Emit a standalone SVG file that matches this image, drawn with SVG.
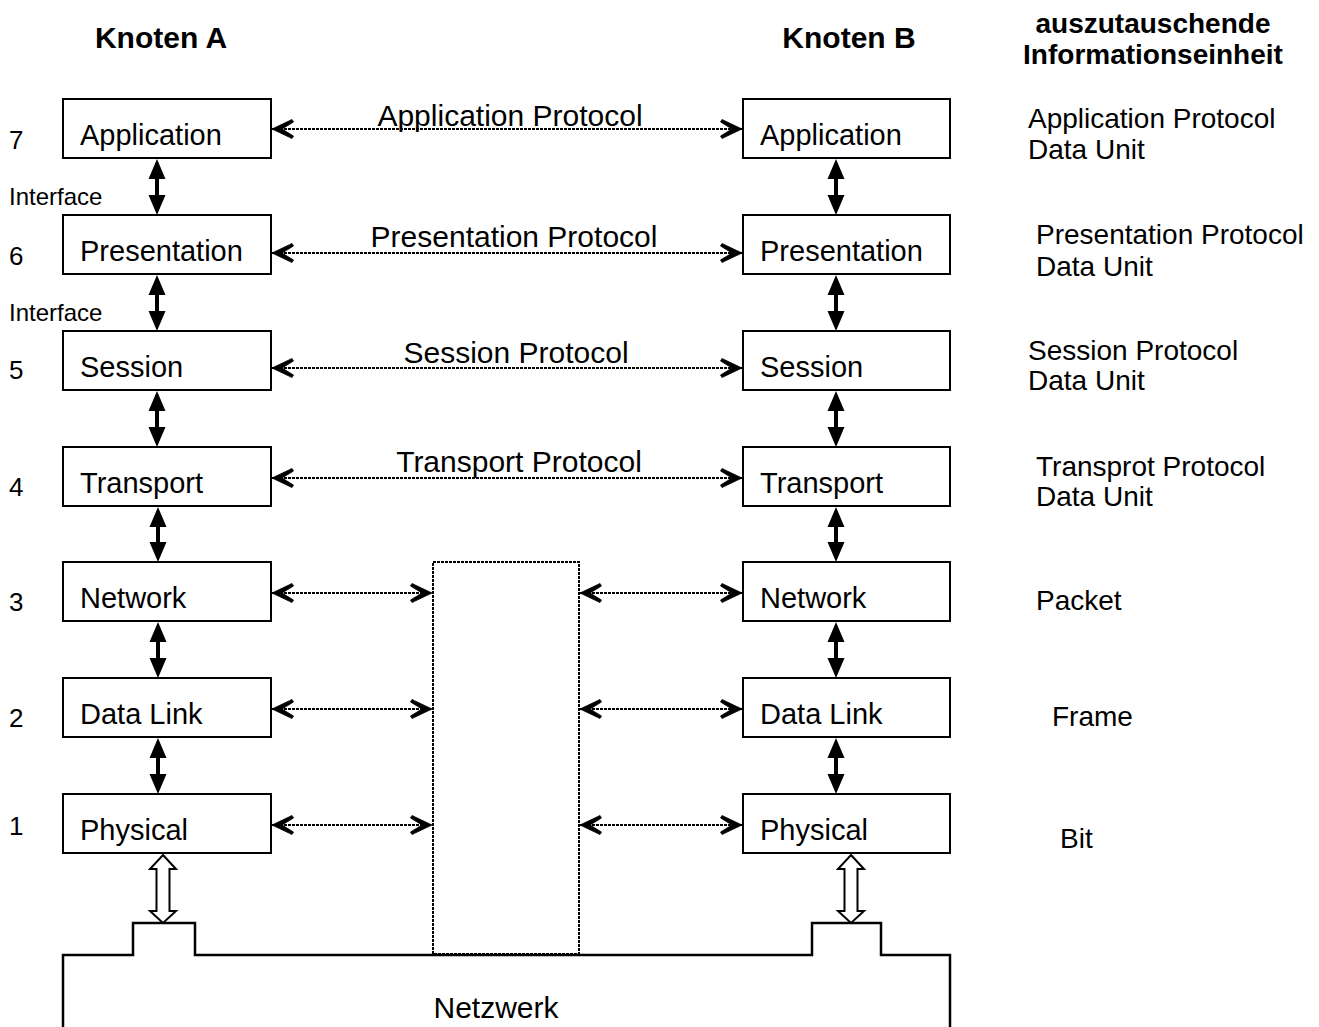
<svg xmlns="http://www.w3.org/2000/svg" width="1319" height="1027" viewBox="0 0 1319 1027">
  <style>
    text { font-family: "Liberation Sans", Arial, sans-serif; fill: #000; }
    .head { font-size: 30px; font-weight: bold; }
    .head2 { font-size: 28px; font-weight: bold; }
    .lbl { font-size: 29px; }
    .proto { font-size: 30px; }
    .num { font-size: 26px; }
    .ifc { font-size: 24px; }
    .unit { font-size: 28px; }
    .box { fill: #fff; stroke: #000; stroke-width: 2; }
    .dot { fill: none; stroke: #000; stroke-width: 2; stroke-dasharray: 3 1; }
    .solid { fill: #000; stroke: none; }
    .hollow { fill: #fff; stroke: #000; stroke-width: 2; stroke-linejoin: miter; }
    .net { fill: none; stroke: #000; stroke-width: 2.5; }
  </style>
  <defs>
    <!-- notched barbed head, tip at the line end -->
    <marker id="chev" viewBox="-23 -11 24 22" refX="0" refY="0" markerWidth="24" markerHeight="22" markerUnits="userSpaceOnUse" orient="auto-start-reverse">
      <path d="M0,0 L-20,-9.5 L-21.5,-7 L-10,0 L-21.5,7 L-20,9.5 Z" fill="#000" stroke="#000" stroke-width="0.8" stroke-dasharray="none"/>
    </marker>
  </defs>

  <rect width="1319" height="1027" fill="#fff"/>

  <!-- headings -->
  <text class="head" x="161" y="48" text-anchor="middle">Knoten A</text>
  <text class="head" x="849" y="48" text-anchor="middle">Knoten B</text>
  <text class="head2" x="1153" y="33" text-anchor="middle">auszutauschende</text>
  <text class="head2" x="1153" y="64" text-anchor="middle">Informationseinheit</text>

  <!-- layer numbers -->
  <g id="layer-numbers">
    <text class="num" x="9" y="149">7</text>
    <text class="num" x="9" y="265">6</text>
    <text class="num" x="9" y="379">5</text>
    <text class="num" x="9" y="496">4</text>
    <text class="num" x="9" y="611">3</text>
    <text class="num" x="9" y="727">2</text>
    <text class="num" x="9" y="835">1</text>
  </g>
  <text class="ifc" x="9" y="205">Interface</text>
  <text class="ifc" x="9" y="321">Interface</text>

  <!-- node A stack -->
  <g id="a-application"><rect class="box" x="63" y="99" width="208" height="59"/><text class="lbl" x="80" y="145">Application</text></g>
  <g id="a-presentation"><rect class="box" x="63" y="215" width="208" height="59"/><text class="lbl" x="80" y="261">Presentation</text></g>
  <g id="a-session"><rect class="box" x="63" y="331" width="208" height="59"/><text class="lbl" x="80" y="377">Session</text></g>
  <g id="a-transport"><rect class="box" x="63" y="447" width="208" height="59"/><text class="lbl" x="80" y="493">Transport</text></g>
  <g id="a-network"><rect class="box" x="63" y="562" width="208" height="59"/><text class="lbl" x="80" y="608">Network</text></g>
  <g id="a-datalink"><rect class="box" x="63" y="678" width="208" height="59"/><text class="lbl" x="80" y="724">Data Link</text></g>
  <g id="a-physical"><rect class="box" x="63" y="794" width="208" height="59"/><text class="lbl" x="80" y="840">Physical</text></g>

  <!-- node B stack -->
  <g id="b-application"><rect class="box" x="743" y="99" width="207" height="59"/><text class="lbl" x="760" y="145">Application</text></g>
  <g id="b-presentation"><rect class="box" x="743" y="215" width="207" height="59"/><text class="lbl" x="760" y="261">Presentation</text></g>
  <g id="b-session"><rect class="box" x="743" y="331" width="207" height="59"/><text class="lbl" x="760" y="377">Session</text></g>
  <g id="b-transport"><rect class="box" x="743" y="447" width="207" height="59"/><text class="lbl" x="760" y="493">Transport</text></g>
  <g id="b-network"><rect class="box" x="743" y="562" width="207" height="59"/><text class="lbl" x="760" y="608">Network</text></g>
  <g id="b-datalink"><rect class="box" x="743" y="678" width="207" height="59"/><text class="lbl" x="760" y="724">Data Link</text></g>
  <g id="b-physical"><rect class="box" x="743" y="794" width="207" height="59"/><text class="lbl" x="760" y="840">Physical</text></g>

  <!-- relay (intermediate system) -->
  <g id="relay"><rect class="dot" x="433" y="562" width="146" height="392"/></g>

  <!-- network -->
  <g id="netzwerk">
    <path class="net" d="M63,1027 V955 H133 V923 H195 V955 H812 V923 H881 V955 H950 V1027"/>
    <text class="proto" x="496" y="1018" text-anchor="middle">Netzwerk</text>
  </g>

  <!-- connectors -->
  <g id="connectors">
    <!-- peer protocols -->
    <line class="dot" x1="272" y1="129" x2="742" y2="129" marker-start="url(#chev)" marker-end="url(#chev)"/>
    <line class="dot" x1="272" y1="253" x2="742" y2="253" marker-start="url(#chev)" marker-end="url(#chev)"/>
    <line class="dot" x1="272" y1="368" x2="742" y2="368" marker-start="url(#chev)" marker-end="url(#chev)"/>
    <line class="dot" x1="272" y1="478" x2="742" y2="478" marker-start="url(#chev)" marker-end="url(#chev)"/>
    <line class="dot" x1="272" y1="593" x2="432" y2="593" marker-start="url(#chev)" marker-end="url(#chev)"/>
    <line class="dot" x1="580" y1="593" x2="742" y2="593" marker-start="url(#chev)" marker-end="url(#chev)"/>
    <line class="dot" x1="272" y1="709" x2="432" y2="709" marker-start="url(#chev)" marker-end="url(#chev)"/>
    <line class="dot" x1="580" y1="709" x2="742" y2="709" marker-start="url(#chev)" marker-end="url(#chev)"/>
    <line class="dot" x1="272" y1="825" x2="432" y2="825" marker-start="url(#chev)" marker-end="url(#chev)"/>
    <line class="dot" x1="580" y1="825" x2="742" y2="825" marker-start="url(#chev)" marker-end="url(#chev)"/>

    <!-- interfaces, node A -->
    <polygon class="solid" points="157,159 165.5,179 159,179 159,195 165.5,195 157,215 148.5,195 155,195 155,179 148.5,179"/>
    <polygon class="solid" points="157,275 165.5,295 159,295 159,311 165.5,311 157,331 148.5,311 155,311 155,295 148.5,295"/>
    <polygon class="solid" points="157,391 165.5,411 159,411 159,427 165.5,427 157,447 148.5,427 155,427 155,411 148.5,411"/>
    <polygon class="solid" points="158,507 166.5,527 160,527 160,542 166.5,542 158,562 149.5,542 156,542 156,527 149.5,527"/>
    <polygon class="solid" points="158,622 166.5,642 160,642 160,658 166.5,658 158,678 149.5,658 156,658 156,642 149.5,642"/>
    <polygon class="solid" points="158,738 166.5,758 160,758 160,774 166.5,774 158,794 149.5,774 156,774 156,758 149.5,758"/>

    <!-- interfaces, node B -->
    <polygon class="solid" points="836,159 844.5,179 838,179 838,195 844.5,195 836,215 827.5,195 834,195 834,179 827.5,179"/>
    <polygon class="solid" points="836,275 844.5,295 838,295 838,311 844.5,311 836,331 827.5,311 834,311 834,295 827.5,295"/>
    <polygon class="solid" points="836,391 844.5,411 838,411 838,427 844.5,427 836,447 827.5,427 834,427 834,411 827.5,411"/>
    <polygon class="solid" points="836,507 844.5,527 838,527 838,542 844.5,542 836,562 827.5,542 834,542 834,527 827.5,527"/>
    <polygon class="solid" points="836,622 844.5,642 838,642 838,658 844.5,658 836,678 827.5,658 834,658 834,642 827.5,642"/>
    <polygon class="solid" points="836,738 844.5,758 838,758 838,774 844.5,774 836,794 827.5,774 834,774 834,758 827.5,758"/>

    <!-- medium attachment -->
    <polygon class="hollow" points="163,855 176,869 169.5,869 169.5,911 176,911 163,923 150,911 156.5,911 156.5,869 150,869"/>
    <polygon class="hollow" points="851,855 864,869 857.5,869 857.5,911 864,911 851,923 838,911 844.5,911 844.5,869 838,869"/>
  </g>

  <!-- protocol labels -->
  <text class="proto" x="510" y="126" text-anchor="middle">Application Protocol</text>
  <text class="proto" x="514" y="247" text-anchor="middle">Presentation Protocol</text>
  <text class="proto" x="516" y="363" text-anchor="middle">Session Protocol</text>
  <text class="proto" x="519" y="472" text-anchor="middle">Transport Protocol</text>

  <!-- exchanged units -->
  <g id="units">
    <text class="unit" x="1028" y="128">Application Protocol</text>
    <text class="unit" x="1028" y="159">Data Unit</text>
    <text class="unit" x="1036" y="244">Presentation Protocol</text>
    <text class="unit" x="1036" y="276">Data Unit</text>
    <text class="unit" x="1028" y="360">Session Protocol</text>
    <text class="unit" x="1028" y="390">Data Unit</text>
    <text class="unit" x="1036" y="476">Transprot Protocol</text>
    <text class="unit" x="1036" y="506">Data Unit</text>
    <text class="unit" x="1036" y="610">Packet</text>
    <text class="unit" x="1052" y="726">Frame</text>
    <text class="unit" x="1060" y="848">Bit</text>
  </g>
</svg>
